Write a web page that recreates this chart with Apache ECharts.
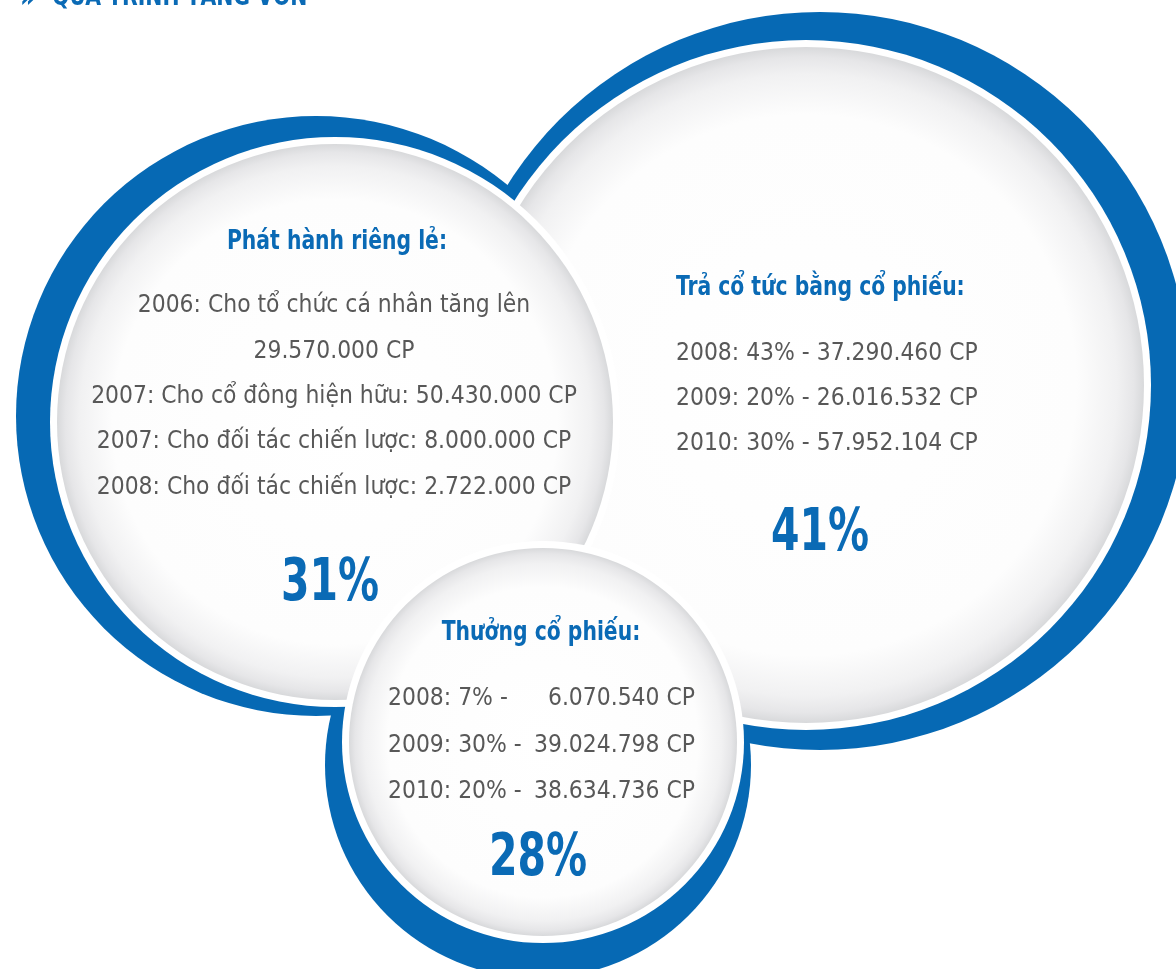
<!DOCTYPE html>
<html>
<head>
<meta charset="utf-8">
<script src="https://cdn.jsdelivr.net/npm/echarts@6/dist/echarts.min.js"></script>
<style>
  html, body { margin: 0; padding: 0; background: #fff; }
  #main { width: 1176px; height: 969px; }
</style>
</head>
<body>
<div id="main"></div>
<script>
// du lieu
const groups = ['Phát hành riêng lẻ:', 'Trả cổ tức bằng cổ phiếu:', 'Thưởng cổ phiếu:'];
const shares = [31, 41, 28];
const privateLines = [
  '2006: Cho tổ chức cá nhân tăng lên',
  '29.570.000 CP',
  '2007: Cho cổ đông hiện hữu: 50.430.000 CP',
  '2007: Cho đối tác chiến lược: 8.000.000 CP',
  '2008: Cho đối tác chiến lược: 2.722.000 CP'
];
const dividendYears = [2008, 2009, 2010];
const dividendPct = [43, 20, 30];
const dividendCP = ['37.290.460', '26.016.532', '57.952.104'];
const bonusYears = [2008, 2009, 2010];
const bonusPct = [7, 30, 20];
const bonusCP = ['6.070.540', '39.024.798', '38.634.736'];

// bo cuc (pixel), thu tu ve: phai, trai, duoi
const bubbles = [
  { idx: 1, cx: 806, cy: 385, r: 338, bx: 820, by: 381, br: 369 },
  { idx: 0, cx: 335, cy: 422, r: 278, bx: 316, by: 416, br: 300 },
  { idx: 2, cx: 543, cy: 742, r: 194, bx: 538, by: 765, br: 213 }
];

const BLUE = '#0669b4';
const TEXT_BLUE = '#0a6ab5';
const GRAY = '#585858';
const FONT = "'DejaVu Sans Condensed', 'DejaVu Sans', sans-serif";
const RIM = 7;

function txt(p, s, o, sx) {
  return {
    type: 'text',
    x: p[0], y: p[1],
    scaleX: sx || 0.975,
    style: Object.assign({
      text: s,
      fill: GRAY,
      fontFamily: FONT,
      fontSize: 25,
      align: 'center',
      verticalAlign: 'middle'
    }, o || {})
  };
}
function heading(p, s, align) {
  return txt(p, s, { fill: TEXT_BLUE, fontWeight: 'bold', fontSize: 26, align: align || 'center' }, 0.87);
}
function pct(p, v) {
  return txt(p, v + '%', { fill: TEXT_BLUE, fontWeight: 'bold', fontSize: 58 }, 0.785);
}

// noi dung chu trong moi bong
function bubbleTexts(idx, P) {
  let out = [];
  if (idx === 0) {
    out.push(heading(P(337, 242), groups[0]));
    const ys = [305, 351, 396, 441, 487];
    privateLines.forEach(function (s, i) {
      out.push(txt(P(334, ys[i]), s));
    });
    out.push(pct(P(330, 585), shares[0]));
  } else if (idx === 1) {
    out.push(heading(P(676, 288), groups[1], 'left'));
    const ys = [353, 398, 443];
    dividendYears.forEach(function (y, i) {
      out.push(txt(P(676, ys[i]), y + ': ' + dividendPct[i] + '% - ' + dividendCP[i] + ' CP', { align: 'left' }));
    });
    out.push(pct(P(820, 535), shares[1]));
  } else {
    out.push(heading(P(541, 633), groups[2]));
    const ys = [698, 745, 791];
    bonusYears.forEach(function (y, i) {
      out.push(txt(P(388, ys[i]), y + ': ' + bonusPct[i] + '% -', { align: 'left' }));
      out.push(txt(P(695, ys[i]), bonusCP[i] + ' CP', { align: 'right' }));
    });
    out.push(pct(P(538, 860), shares[2]));
  }
  return out;
}

const chart = echarts.init(document.getElementById('main'));
chart.setOption({
  backgroundColor: '#ffffff',
  animation: false,
  graphic: [
    {
      type: 'text', x: 20, y: -1, scaleX: 0.9, z: 10,
      style: { text: '»', fill: TEXT_BLUE, fontFamily: FONT, fontWeight: 'bold', fontSize: 30, verticalAlign: 'middle' }
    },
    {
      type: 'text', x: 52, y: -2, scaleX: 0.84, z: 10,
      style: { text: 'QUÁ TRÌNH TĂNG VỐN', fill: TEXT_BLUE, fontFamily: FONT, fontWeight: 'bold', fontSize: 27, verticalAlign: 'middle' }
    }
  ],
  grid: { left: 0, right: 0, top: 0, bottom: 0 },
  xAxis: { type: 'value', min: 0, max: 1176, show: false },
  yAxis: { type: 'value', min: 0, max: 969, inverse: true, show: false },
  series: [
    {
      // vong xanh
      type: 'custom',
      silent: true,
      clip: false,
      z: 1,
      data: bubbles.map(function (b) { return [b.bx, b.by, b.br]; }),
      renderItem: function (params, api) {
        const c = api.coord([api.value(0), api.value(1)]);
        const r = api.size([api.value(2), 0])[0];
        return { type: 'circle', shape: { cx: c[0], cy: c[1], r: r }, style: { fill: BLUE } };
      }
    },
    {
      // dia trang + chu
      type: 'custom',
      silent: true,
      clip: false,
      z: 2,
      data: bubbles.map(function (b) { return [b.cx, b.cy, b.r, b.idx]; }),
      renderItem: function (params, api) {
        const c = api.coord([api.value(0), api.value(1)]);
        const r = api.size([api.value(2), 0])[0];
        const idx = api.value(3);
        const P = function (x, y) { return api.coord([x, y]); };
        const children = [
          { type: 'circle', shape: { cx: c[0], cy: c[1], r: r + RIM }, style: { fill: '#ffffff' } },
          {
            type: 'circle',
            shape: { cx: c[0], cy: c[1], r: r },
            style: {
              fill: {
                type: 'radial', x: 0.5, y: 0.5, r: 0.5,
                colorStops: [
                  { offset: 0, color: '#ffffff' },
                  { offset: 0.8, color: '#fdfdfd' },
                  { offset: 0.92, color: '#f1f1f2' },
                  { offset: 0.97, color: '#e6e6e8' },
                  { offset: 1, color: '#d8d9db' }
                ]
              }
            }
          }
        ];
        return { type: 'group', children: children.concat(bubbleTexts(idx, P)) };
      }
    }
  ]
});
</script>
</body>
</html>
